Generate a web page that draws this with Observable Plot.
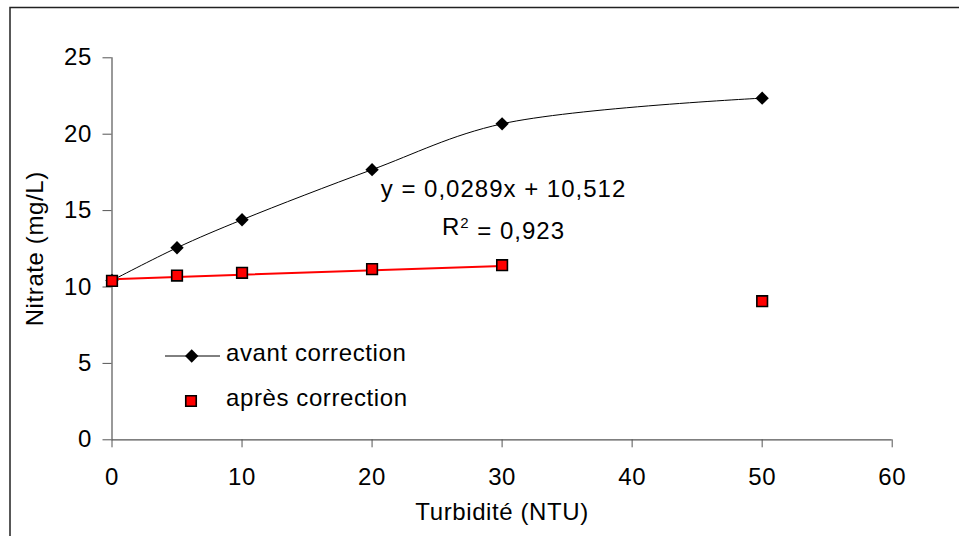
<!DOCTYPE html>
<html>
<head>
<meta charset="utf-8">
<script src="https://cdn.jsdelivr.net/npm/d3@7"></script>
<script src="https://cdn.jsdelivr.net/npm/@observablehq/plot@0.6"></script>
<style>
  body { margin: 0; background: #fff; }
  #chart svg text { letter-spacing: 0.6px; }
  #chart svg .eq text { letter-spacing: 1px; }
</style>
</head>
<body>
<div id="chart"></div>
<script>
// ---- data ----
const turbidite = [0, 5, 10, 20, 30, 50];
const avant = [10.43, 12.57, 14.4, 17.68, 20.68, 22.36];
const apres = [10.4, 10.75, 10.93, 11.17, 11.43, 9.07];
const seriesNames = ["avant correction", "après correction"];
const trendSlope = 0.0289;
const trendIntercept = 10.512;
const trendRange = [0, 30];
const trendLabels = ["y = 0,0289x + 10,512", "R² = 0,923"];
const xTicks = [0, 10, 20, 30, 40, 50, 60];
const yTicks = [0, 5, 10, 15, 20, 25];
const xLabel = "Turbidité (NTU)";
const yLabel = "Nitrate (mg/L)";

// ---- tables ----
const avantData = turbidite.map((x, i) => ({x, y: avant[i]}));
const apresData = turbidite.map((x, i) => ({x, y: apres[i]}));
const trendData = trendRange.map(x => ({x, y: trendIntercept + trendSlope * x}));

const font = "'Liberation Sans', Arial, Helvetica, sans-serif";
const axisColor = "#555";

const ml = 111.5, mr = 67.3, mt = 57.3, mb = 96.7;

const plot = Plot.plot({
  width: 959,
  height: 536,
  marginLeft: ml,
  marginRight: mr,
  marginTop: mt,
  marginBottom: mb,
  style: {fontFamily: font, fontSize: "24px", color: "#000", background: "#fff"},
  x: {domain: [0, 60]},
  y: {domain: [0, 25]},
  marks: [
    Plot.ruleY([0], {stroke: axisColor, strokeWidth: 1.2}),
    Plot.ruleX([0], {stroke: axisColor, strokeWidth: 1.2}),
    Plot.axisX({ticks: xTicks, tickSize: 8, tickPadding: 20, stroke: axisColor, fill: "#000",
      fontSize: 24, label: xLabel, labelAnchor: "center", labelArrow: "none", labelOffset: 80}),
    Plot.axisY({ticks: yTicks, tickSize: 9, tickPadding: 11, stroke: axisColor, fill: "#000",
      fontSize: 24, label: yLabel, labelAnchor: "center", labelArrow: "none", labelOffset: 86}),
    Plot.line(avantData, {x: "x", y: "y", curve: "catmull-rom", stroke: "#000", strokeWidth: 1}),
    Plot.line(trendData, {x: "x", y: "y", stroke: "#ff0000", strokeWidth: 2}),
    Plot.dot(avantData, {x: "x", y: "y", symbol: "diamond2", r: 6, fill: "#000", stroke: "none"}),
    Plot.dot(apresData, {x: "x", y: "y", symbol: "square", r: 6, fill: "#ff0000", stroke: "#000", strokeWidth: 1.6}),
    Plot.text([trendLabels[0]], {text: d => d, frameAnchor: "top-left", dx: 391.5, dy: 139.4,
      textAnchor: "middle", lineAnchor: "bottom", fontSize: 24, fill: "#000", className: "eq"}),
    Plot.text([trendLabels[1]], {text: d => d, frameAnchor: "top-left", dx: 391.5, dy: 176.7,
      textAnchor: "middle", lineAnchor: "bottom", fontSize: 24, fill: "#000", className: "eq r2"})
  ]
});

document.getElementById("chart").appendChild(plot);

const svg = d3.select(plot);

// render the ² of R² as a true superscript
svg.selectAll(".r2 text").each(function() {
  const t = d3.select(this);
  const s = t.text();
  const i = s.indexOf("²");
  if (i < 0) return;
  t.text(null);
  t.append("tspan").text(s.slice(0, i));
  t.append("tspan").attr("dy", "-0.45em").attr("font-size", "15px").text("2");
  t.append("tspan").attr("dy", "0.45em").text(s.slice(i + 1));
});

// outer chart-area border
svg.insert("rect", ":first-child")
  .attr("x", 10).attr("y", 7.5).attr("width", 1200).attr("height", 1200)
  .attr("fill", "#fff").attr("stroke", "#222").attr("stroke-width", 1.5);

// legend
const lg = svg.append("g")
  .attr("font-family", font).attr("font-size", 24).attr("fill", "#000")
  .attr("text-anchor", "start");
lg.append("line").attr("x1", 165).attr("x2", 220).attr("y1", 356).attr("y2", 356)
  .attr("stroke", "#000").attr("stroke-width", 1);
lg.append("path").attr("transform", "translate(191.7,356)")
  .attr("d", d3.symbol(d3.symbolDiamond2, 113)()).attr("fill", "#000");
lg.append("text").attr("x", 226).attr("y", 360.7).text(seriesNames[0]);
lg.append("path").attr("transform", "translate(191,401)")
  .attr("d", d3.symbol(d3.symbolSquare, 110)()).attr("fill", "#ff0000")
  .attr("stroke", "#000").attr("stroke-width", 1.6);
lg.append("text").attr("x", 226).attr("y", 405.5).text(seriesNames[1]);
</script>
</body>
</html>
